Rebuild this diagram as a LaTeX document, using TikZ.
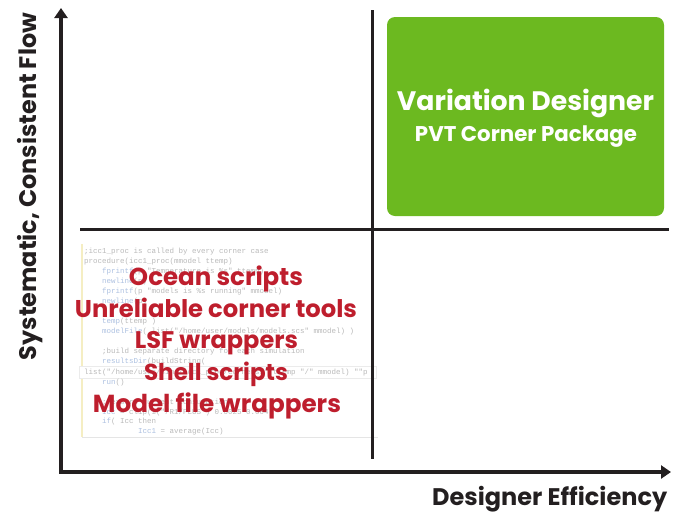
\documentclass[tikz,border=0pt]{standalone}
\usepackage{fontspec}
\usepackage{graphicx}
\usetikzlibrary{arrows.meta}
\newfontfamily\pop{Poppins}
\newfontfamily\codefont{Liberation Mono}
\definecolor{vdgreen}{RGB}{108,185,32}
\definecolor{vdred}{RGB}{190,30,45}
\definecolor{ink}{RGB}{35,31,32}
\definecolor{codegray}{RGB}{185,185,185}
\definecolor{codeblue}{RGB}{172,192,224}
\definecolor{paleyellow}{RGB}{245,238,195}
\newcommand\fitw[2]{\resizebox{#1pt}{!}{#2}}
\newcommand\kw[1]{\textcolor{codeblue}{#1}}
\begin{document}
\begin{tikzpicture}[x=1pt,y=-1pt,
  axisline/.style={draw=ink,line width=4pt,line join=miter,>={Triangle[length=10pt,width=13pt]}},
  divider/.style={draw=ink,line width=3pt},
  redtxt/.style={anchor=base,text=vdred,inner sep=0pt,font=\pop\bfseries},
  codetxt/.style={anchor=base west,inner sep=0pt,text=codegray,font=\codefont\fontsize{7.5}{9}\selectfont},
  axislabel/.style={text=ink,inner sep=0pt,font=\pop\bfseries},
  boxtxt/.style={anchor=base,text=white,inner sep=0pt,font=\pop\bfseries}
]
\useasboundingbox (0,0) rectangle (678,512);

% code background
\draw[paleyellow,line width=1.5pt] (82,244) -- (82,437);
\draw[black!10,line width=1pt] (82,437) -- (378,437);
\node[draw=black!8,fill=white,minimum width=297pt,minimum height=12pt,inner sep=0pt,anchor=north west] (hl) at (79,366) {};

\node[codetxt] (c1) at (84,253) {;icc1\_proc is called by every corner case};
\node[codetxt] (c2) at (84,263) {procedure(icc1\_proc(mmodel ttemp)};
\node[codetxt] (c3) at (102,273) {\kw{fprintf}(p "Temperature is \%s" ttemp)};
\node[codetxt] (c4) at (102,283) {\kw{newline}(p)};
\node[codetxt] (c5) at (102,293) {\kw{fprintf}(p "models is \%s running" mmodel)};
\node[codetxt] (c6) at (102,303) {\kw{newline}(p)};
\node[codetxt] (c8) at (102,323) {\kw{temp}(ttemp )};
\node[codetxt] (c9) at (102,333) {\kw{modelFile}( list("/home/user/models/models.scs" mmodel) )};
\node[codetxt] (c11) at (102,353) {;build separate directory for each simulation};
\node[codetxt] (c12) at (102,363) {\kw{resultsDir}(buildString(};
\node[codetxt] (c13) at (84,374) {list("/home/user/sims/icc1\_proc/corners/" ttemp "/" mmodel) ""p};
\node[codetxt] (c14) at (102,384) {\kw{run}()};
\node[codetxt] (c16) at (102,404) {;measure current consumption};
\node[codetxt] (c17) at (102,414) {\kw{Icc} = clip(i("/R1/PLUS") 0.0025 0.004)};
\node[codetxt] (c18) at (102,423) {\kw{if}( Icc then};
\node[codetxt] (c19) at (138,433) {\kw{Icc1} = average(Icc)};

% axes
\coordinate (origin) at (61,472);
\coordinate (ytip) at (61,8);
\coordinate (xtip) at (671,472);
\draw[axisline,<->] (ytip) |- (xtip);

% dividers
\coordinate (vtop) at (372,10);
\coordinate (vbot) at (372,459);
\coordinate (hleft) at (80,229);
\coordinate (hright) at (669,229);
\draw[divider] (vtop) -- (vbot);
\draw[divider] (hleft) -- (hright);

% green box
\node[fill=vdgreen,rounded corners=8pt,minimum width=277pt,minimum height=199pt,inner sep=0pt] (vd) at (525.5,116.5) {};
\node[boxtxt] (vdt) at (525.5,110) {\fitw{257}{Variation Designer}};
\node[boxtxt] (vds) at (526,141) {\fitw{222}{PVT Corner Package}};

% red texts
\node[redtxt] (r1) at (216,285) {\fitw{174}{Ocean scripts}};
\node[redtxt] (r2) at (216,317) {\fitw{282}{Unreliable corner tools}};
\node[redtxt] (r3) at (216.5,348) {\fitw{163}{LSF wrappers}};
\node[redtxt] (r4) at (216,380) {\fitw{144}{Shell scripts}};
\node[redtxt] (r5) at (217,412) {\fitw{248}{Model file wrappers}};

% axis labels
\node[axislabel,rotate=90] (ylab) at (30,186.5) {\fitw{347}{Systematic, Consistent Flow}};
\node[axislabel,anchor=base west] (xlab) at (432,505) {\fitw{235}{Designer Efficiency}};
\end{tikzpicture}
\end{document}
